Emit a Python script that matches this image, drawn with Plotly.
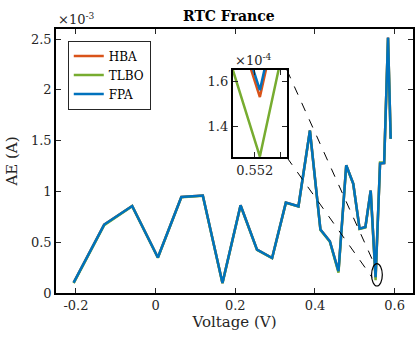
import plotly.graph_objects as go

# Voltage (V) of the RTC France data points
voltage = [-0.2057, -0.1291, -0.0588, 0.0057, 0.0646, 0.1185, 0.1678, 0.2132, 0.2545,
           0.2924, 0.3269, 0.3585, 0.3873, 0.4137, 0.4373, 0.4590, 0.4784, 0.4960,
           0.5119, 0.5265, 0.5398, 0.5521, 0.5633, 0.5736, 0.5833, 0.5900]

# Absolute error, in units of 1e-3 A
ae_hba = [0.102, 0.674, 0.857, 0.349, 0.946, 0.960, 0.099, 0.864, 0.427, 0.345, 0.890,
          0.854, 1.600, 0.625, 0.510, 0.214, 1.258, 1.078, 0.634, 0.650, 1.010, 0.153,
          1.275, 1.280, 2.516, 1.520]
ae_tlbo = [0.098, 0.668, 0.855, 0.347, 0.944, 0.958, 0.097, 0.862, 0.425, 0.343, 0.888,
           0.852, 1.598, 0.620, 0.505, 0.200, 1.255, 1.075, 0.630, 0.645, 1.005, 0.127,
           1.285, 1.285, 2.510, 1.518]
ae_fpa = [0.102, 0.674, 0.857, 0.349, 0.946, 0.960, 0.099, 0.864, 0.427, 0.345, 0.890,
          0.854, 1.600, 0.625, 0.510, 0.214, 1.258, 1.078, 0.634, 0.650, 1.010, 0.156,
          1.275, 1.280, 2.516, 1.520]

series_names = ["HBA", "TLBO", "FPA"]
series_colors = ["#D95319", "#77AC30", "#0072BD"]
series_values = [ae_hba, ae_tlbo, ae_fpa]

x_ticks = [-0.2, 0, 0.2, 0.4, 0.6]
x_tick_labels = ["-0.2", "0", "0.2", "0.4", "0.6"]
y_ticks = [0, 0.5, 1, 1.5, 2, 2.5]
y_tick_labels = ["0", "0.5", "1", "1.5", "2", "2.5"]
inset_x_ticks = [0.552, 0.5525]
inset_x_tick_labels = ["0.552", " "]
inset_y_ticks = [1.4, 1.6]
inset_y_tick_labels = ["1.4", "1.6"]

FONT = "DejaVu Serif"
x_range = [-0.25, 0.646]
y_range = [0, 2.6]
inset_x_range = [0.55157, 0.55263]
inset_y_range = [1.266, 1.648]
inset_dom_x = [0.4954, 0.6468]
inset_dom_y = [0.5135, 0.8445]

fig = go.Figure()
for name, col, vals in zip(series_names, series_colors, series_values):
    fig.add_trace(go.Scatter(x=voltage, y=vals, mode="lines", name=name,
                             line=dict(color=col, width=2.5), xaxis="x", yaxis="y"))
for name, col, vals in zip(series_names, series_colors, series_values):
    fig.add_trace(go.Scatter(x=voltage, y=[v * 10 for v in vals], mode="lines", name=name,
                             showlegend=False, line=dict(color=col, width=2.5),
                             xaxis="x2", yaxis="y2"))

axis_common = dict(showline=True, linecolor="black", linewidth=1.5, mirror="allticks",
                   ticks="inside", ticklen=5, tickcolor="#262626", showgrid=False,
                   zeroline=False, automargin=False,
                   tickfont=dict(family=FONT, size=13, color="#262626"))

fig.update_layout(
    width=416, height=338,
    margin=dict(l=56, r=3.3, t=29, b=45.3, autoexpand=False),
    paper_bgcolor="white", plot_bgcolor="white",
    title=dict(text="<b>RTC France</b>", x=0.55, xanchor="center", y=0.953, yanchor="middle",
               yref="container", automargin=False,
               font=dict(family=FONT, size=14, color="black")),
    xaxis=dict(range=x_range, tickvals=x_ticks, ticktext=x_tick_labels,
               title=dict(text="Voltage (V)", standoff=2,
                          font=dict(family=FONT, size=15, color="#262626")),
               **axis_common),
    yaxis=dict(range=y_range, tickvals=y_ticks, ticktext=y_tick_labels,
               title=dict(text="AE (A)", standoff=10,
                          font=dict(family=FONT, size=15, color="#262626")),
               **axis_common),
    xaxis2=dict(domain=inset_dom_x, anchor="y2", range=inset_x_range,
                tickvals=inset_x_ticks, ticktext=inset_x_tick_labels,
                **{**axis_common, "linewidth": 2}),
    yaxis2=dict(domain=inset_dom_y, anchor="x2", range=inset_y_range,
                tickvals=inset_y_ticks, ticktext=inset_y_tick_labels,
                **{**axis_common, "linewidth": 2}),
    legend=dict(x=0.033, y=0.956, xanchor="left", yanchor="top",
                bgcolor="white", bordercolor="#262626", borderwidth=1,
                font=dict(family=FONT, size=12, color="black"),
                itemwidth=30, tracegroupgap=0),
    showlegend=True,
)

# multiplier labels
fig.add_annotation(text="×10<sup>-3</sup>", xref="paper", yref="paper", x=0, y=1,
                   xanchor="left", yanchor="bottom", showarrow=False,
                   font=dict(family=FONT, size=13, color="#262626"))
fig.add_annotation(text="×10<sup>-4</sup>", xref="paper", yref="paper", x=inset_dom_x[0],
                   y=inset_dom_y[1], xanchor="left", yanchor="bottom", showarrow=False,
                   font=dict(family=FONT, size=13, color="#262626"))

# zoom ellipse and connecting dashed lines (main data coords)
ell_x = [0.542, 0.569]
ell_y = [0.069, 0.289]
fig.add_shape(type="circle", xref="x", yref="y", x0=ell_x[0], x1=ell_x[1],
              y0=ell_y[0], y1=ell_y[1], line=dict(color="black", width=1.2))
inset_right = x_range[0] + inset_dom_x[1] * (x_range[1] - x_range[0])
inset_top = y_range[0] + inset_dom_y[1] * (y_range[1] - y_range[0])
inset_bot = y_range[0] + inset_dom_y[0] * (y_range[1] - y_range[0])
fig.add_shape(type="line", xref="x", yref="y", x0=inset_right, y0=inset_top,
              x1=0.548, y1=0.293, line=dict(color="black", width=1, dash="dash"))
fig.add_shape(type="line", xref="x", yref="y", x0=inset_right, y0=inset_bot,
              x1=0.543, y1=0.155, line=dict(color="black", width=1, dash="dash"))

fig.write_html("out.html", config={"displayModeBar": False},
               post_script="document.body.style.margin='0';")
